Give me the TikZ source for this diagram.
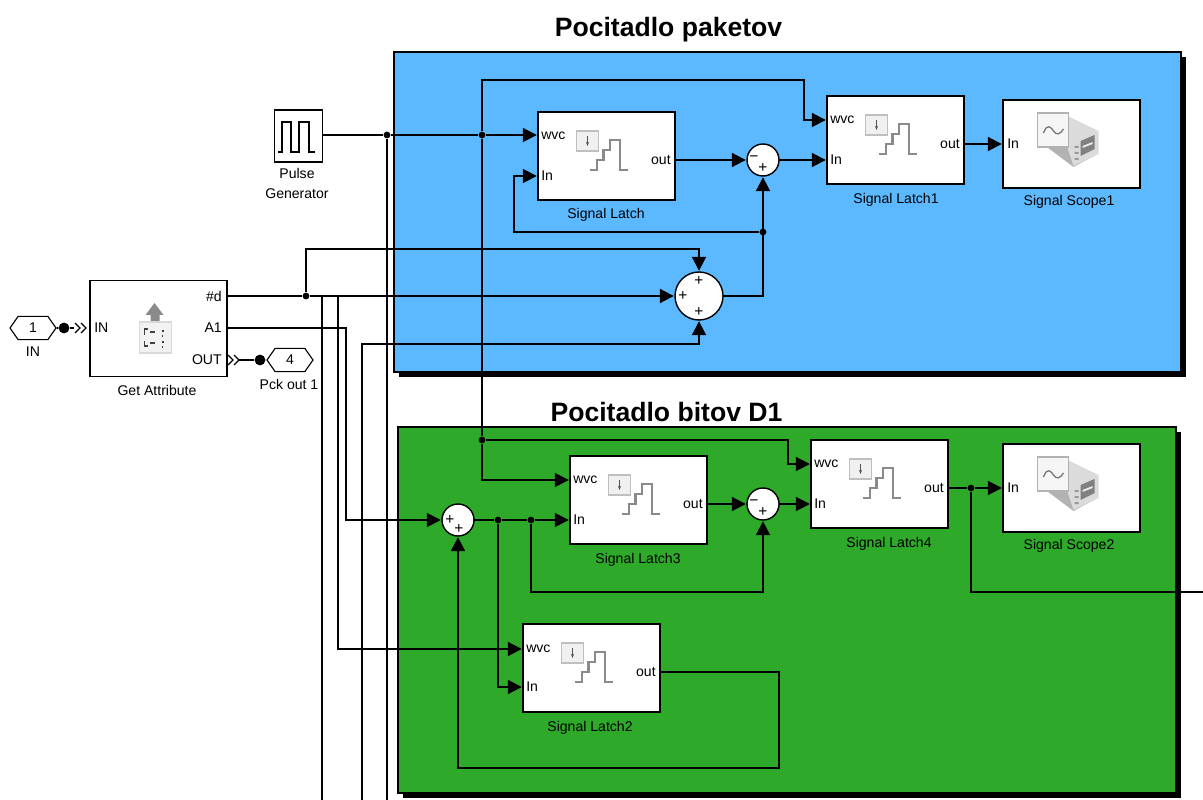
\documentclass[tikz,border=0pt]{standalone}
\usepackage{fontspec}
\setmainfont{Liberation Sans}
\usepackage{xcolor}
\definecolor{panelblue}{HTML}{5DB9FF}
\definecolor{panelgreen}{HTML}{2EA92A}
\definecolor{icongray}{HTML}{8A8A8A}
\usetikzlibrary{arrows.meta,shapes.symbols,shadows}

\tikzset{
  latchicon/.pic={
    \draw[draw=black!25, fill=black!6, line width=0.8pt] (-30,-25) rectangle (-8,-5);
    \draw[icongray!60!black, line width=0.7pt, -{Stealth[length=1mm]}] (-19,-20) -- (-19,-10);
    \draw[icongray, line width=1.5pt] (-16.5,14) -- (-9.5,14) -- (-9.5,4) -- (-3,4) -- (-3,-6) -- (3.5,-6) -- (3.5,-16) -- (13.5,-16) -- (13.5,14) -- (21.5,14);
  },
  scopeicon/.pic={
    \fill[black!30] (-26,2) -- (-3,2) -- (3,-10) -- (26,10) -- (2,23) -- cycle;
    \fill[black!14] (-4,-28) -- (27,-13) -- (27,10) -- (2,22) -- (-4,4) -- cycle;
    \fill[black!50] (9,-3) -- (23,-9) -- (23,5) -- (9,12) -- cycle;
    \fill[black!8] (11,2) -- (21,-2) -- (21,0) -- (11,4) -- cycle;
    \fill[black!40] (3,2) rectangle (7,4) (3,8) rectangle (7,10) (3,14) rectangle (7,16);
    \draw[black!30, fill=black!4, line width=0.8pt] (-34,-31) rectangle (-3,3);
    \draw[black!55, line width=0.9pt] (-28,-11) .. controls (-24,-22) and (-20,-16) .. (-18,-13) .. controls (-15,-8) and (-11,-10) .. (-8,-15);
  },
  attricon/.pic={
    \fill[icongray] (-13,-13) -- (-4,-25) -- (5,-13) -- (1,-13) -- (1,-6) -- (-8,-6) -- (-8,-13) -- cycle;
    \draw[black!15, fill=black!5, line width=0.8pt] (-19,-6) rectangle (13,25);
    \draw[black!75, line width=0.9pt] (-11,1) -- (-14,1) -- (-14,7) (-14,13) -- (-14,18) -- (-11,18) (-9,4) -- (-4,4) (-9,15) -- (-4,15) (3,3) -- (5,3) (3,14) -- (5,14) (4,7) -- (4,9) (4,18) -- (4,20);
  }
}

\begin{document}
\begin{tikzpicture}[x=0.025cm, y=-0.025cm,
    every node/.style={font=\fontsize{10}{12}\selectfont},
    panel/.style={draw=black, line width=1.4pt, minimum width=19.65cm, inner sep=0pt, outer sep=0pt,
                  general shadow={fill=black, shadow xshift=0.125cm, shadow yshift=-0.125cm}},
    latch/.style={draw=black, fill=white, line width=1.4pt, minimum width=3.425cm,
                  minimum height=2.2cm, inner sep=0pt, outer sep=0pt},
    sumnode/.style={draw=black, fill=white, circle, line width=1pt, inner sep=0pt, outer sep=0pt},
    title/.style={font=\fontsize{18.9}{22}\selectfont\bfseries, inner sep=0pt},
    caption/.style={inner sep=0pt, align=center},
    portl/.style={anchor=west, inner sep=0pt},
    portr/.style={anchor=east, inner sep=0pt},
    sign/.style={font=\fontsize{11}{11}\selectfont, inner sep=0pt},
    jn/.style={circle, fill=black, inner sep=0pt, minimum size=0.17cm},
    portdot/.style={circle, fill=black, inner sep=0pt, minimum size=0.27cm},
    tag/.style={signal, signal to=east and west, signal pointer angle=110, draw=black, fill=white,
                line width=0.8pt, inner sep=0pt, minimum width=1.15cm, minimum height=0.58cm},
    wire/.style={line width=1.4pt},
    arr/.style={wire, -{Triangle[length=3.5mm, width=3.5mm]}, shorten >=0.3mm}]
  \useasboundingbox (0,0) rectangle (1203,800);
  \node[panel, fill=panelblue, minimum height=8cm] (blue) at (787.5,212) {};
  \node[panel, fill=panelgreen, minimum width=19.45cm, minimum height=9.15cm] (green) at (787,610) {};
  \node[title] (tblue) at (668.5,30) {Pocitadlo paketov};
  \node[title] (tgreen) at (666.5,412) {Pocitadlo bitov D1};

  \node[latch, minimum width=1.2cm, minimum height=1.3cm] (pulse) at (298.5,136) {};
  \draw[wire, line width=1.1pt] (278,152) -- (282,152) -- (282,122) -- (291,122) -- (291,152) -- (299,152) -- (299,122) -- (309,122) -- (309,152) -- (315,152);
  \node[caption, font=\fontsize{10}{14.2}\selectfont] (tpulse) at (297,183) {Pulse\\Generator};

  \node[latch, minimum height=2.4cm] (attr) at (158.5,328.5) {};
  \pic at (158.5,328) {attricon};
  \node[portl] (pain) at (94,328) {IN};
  \node[portr] (pnum) at (222,296) {\#d};
  \node[portr] (pa1) at (222,328) {A1};
  \node[portr] (pout) at (222,360) {OUT};
  \node[caption] (tattr) at (157,390) {Get Attribute};
  \node[tag] (tagin) at (33,328) {1};
  \node[caption] (tin) at (33,352) {IN};
  \node[tag] (tagout) at (290,360) {4};
  \node[caption] (tout) at (289,384) {Pck out 1};
  \node[portdot] (din) at (64,328) {};
  \node[portdot] (dout) at (260,360) {};
  \coordinate (chin) at (74,328);
  \coordinate (chout) at (238,360);
  \draw[wire] (tagin) -- (din);
  \draw[wire] (din) -- (chin);
  \draw[wire] (chout) -- (dout);
  \draw[line width=0.9pt] (75,323) -- (80,328) -- (75,333) (81,323) -- (86,328) -- (81,333) (228,355) -- (233,360) -- (228,365) (234,355) -- (239,360) -- (234,365);

  \node[latch] (la) at (606.5,156) {};
  \pic at (606.5,156) {latchicon};
  \node[portl] (lawvc) at (541,136) {wvc};
  \node[portl] (lain) at (541,176) {In};
  \node[portr] (laout) at (671,160) {out};
  \node[caption] (tla) at (606,215) {Signal Latch};

  \node[latch] (lb) at (895.5,140) {};
  \pic at (895.5,140) {latchicon};
  \node[portl] (lbwvc) at (830,120) {wvc};
  \node[portl] (lbin) at (830,160) {In};
  \node[portr] (lbout) at (960,144) {out};
  \node[caption] (tlb) at (896,200) {Signal Latch1};

  \node[latch] (sa) at (1071.5,144) {};
  \pic at (1071.5,144) {scopeicon};
  \node[portl] (sain) at (1007,144) {In};
  \node[caption] (tsa) at (1069,202) {Signal Scope1};

  \node[latch] (lc) at (638.5,500) {};
  \pic at (638.5,500) {latchicon};
  \node[portl] (lcwvc) at (573,480) {wvc};
  \node[portl] (lcin) at (573,520) {In};
  \node[portr] (lcout) at (703,504) {out};
  \node[caption] (tlc) at (638,560) {Signal Latch3};

  \node[latch] (ld) at (879.5,484) {};
  \pic at (879.5,484) {latchicon};
  \node[portl] (ldwvc) at (814,464) {wvc};
  \node[portl] (ldin) at (814,504) {In};
  \node[portr] (ldout) at (944,488) {out};
  \node[caption] (tld) at (889,544) {Signal Latch4};

  \node[latch] (sb) at (1071.5,488) {};
  \pic at (1071.5,488) {scopeicon};
  \node[portl] (sbin) at (1007,488) {In};
  \node[caption] (tsb) at (1069,546) {Signal Scope2};

  \node[latch] (le) at (591.5,668) {};
  \pic at (591.5,668) {latchicon};
  \node[portl] (lewvc) at (526,649) {wvc};
  \node[portl] (lein) at (526,687) {In};
  \node[portr] (leout) at (656,672) {out};
  \node[caption] (tle) at (590,728) {Signal Latch2};

  \node[sumnode, minimum size=0.8cm] (s1) at (763,160) {};
  \node[sign] (s1m) at (754,159) {−};
  \node[sign] (s1p) at (763,168) {+};
  \node[sumnode, minimum size=1.2cm] (s2) at (699,296) {};
  \node[sign] (s2t) at (699,281) {+};
  \node[sign] (s2l) at (683,296) {+};
  \node[sign] (s2b) at (699,312) {+};
  \node[sumnode, minimum size=0.8cm] (s3) at (458,520) {};
  \node[sign] (s3l) at (450,520) {+};
  \node[sign] (s3r) at (459,529) {+};
  \node[sumnode, minimum size=0.8cm] (s4) at (763,504) {};
  \node[sign] (s4m) at (754,503) {−};
  \node[sign] (s4p) at (763,512) {+};

  \node[jn] (j1) at (387,135) {};
  \node[jn] (j2) at (482,135) {};
  \node[jn] (j3) at (482,440) {};
  \node[jn] (j4) at (763,232) {};
  \node[jn] (j5) at (306,296) {};
  \node[jn] (j6) at (498,520) {};
  \node[jn] (j7) at (531,520) {};
  \node[jn] (j8) at (971,488) {};
  \coordinate (endA) at (322,800);
  \coordinate (endB) at (362,800);
  \coordinate (endC) at (387,800);
  \coordinate (endD) at (1203,592);

  \draw[wire] (pulse.east |- j1) -- (j1);
  \draw[wire] (j1) -- (j2);
  \draw[wire] (j1) -- (endC);
  \draw[arr] (j2) -- (la.west |- j2);
  \draw[arr] (j2) -- (482,80) -- (804,80) -- (804,120) -- (lb.west |- lbwvc);
  \draw[wire] (j2) -- (j3);
  \draw[arr] (j3) -- (788,440) -- (788,464) -- (ld.west |- ldwvc);
  \draw[arr] (j3) -- (482,480) -- (lc.west |- lcwvc);

  \draw[arr] (la.east |- laout) -- (s1);
  \draw[arr] (s1) -- (lb.west |- lbin);
  \draw[arr] (lb.east |- lbout) -- (sa.west |- lbout);
  \draw[arr] (s2.east) -- (763,296) -- (s1.south);
  \draw[arr] (j4) -- (514,232) -- (514,176) -- (la.west |- lain);

  \draw[wire] (attr.east |- j5) -- (j5);
  \draw[arr] (j5) -- (s2.west);
  \draw[arr] (j5) -- (306,249) -- (699,249) -- (s2.north);
  \draw[wire] (322,296) -- (endA);
  \draw[arr] (338,296) -- (338,649) -- (le.west |- lewvc);
  \draw[arr] (attr.east |- pa1) -- (346,328) -- (346,520) -- (s3.west);
  \draw[arr] (endB) -- (362,344) -- (699,344) -- (s2.south);

  \draw[wire] (s3) -- (j6);
  \draw[wire] (j6) -- (j7);
  \draw[arr] (j7) -- (lc.west |- lcin);
  \draw[arr] (j6) -- (498,687) -- (le.west |- lein);
  \draw[arr] (j7) -- (531,592) -- (763,592) -- (s4.south);
  \draw[arr] (lc.east |- lcout) -- (s4);
  \draw[arr] (s4) -- (ld.west |- ldin);
  \draw[wire] (ld.east |- j8) -- (j8);
  \draw[arr] (j8) -- (sb.west |- j8);
  \draw[wire] (j8) -- (971,592) -- (endD);
  \draw[arr] (le.east |- leout) -- (779,672) -- (779,768) -- (458,768) -- (s3.south);
\end{tikzpicture}
\end{document}
